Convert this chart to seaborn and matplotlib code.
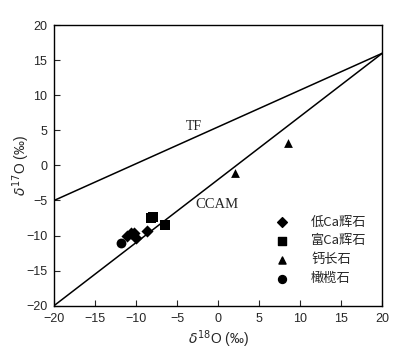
import numpy as np
import pandas as pd
import matplotlib
matplotlib.use("Agg")
import matplotlib.pyplot as plt
import seaborn as sns

# reference lines (endpoints)
tf_x = [-20, 20]
tf_y = [-5, 16]
ccam_x = [-20, 20]
ccam_y = [-20, 16]

# mineral data (d18O, d17O)
low_ca_px_x = [-11.1, -10.6, -10.2, -10.0, -8.7]
low_ca_px_y = [-10.0, -9.6, -9.7, -10.4, -9.4]
high_ca_px_x = [-8.2, -8.0, -6.5]
high_ca_px_y = [-7.5, -7.3, -8.5]
plag_x = [2.1, 8.45]
plag_y = [-1.1, 3.2]
olivine_x = [-11.9]
olivine_y = [-11.0]

labels = ["低Ca辉石", "富Ca辉石", "钙长石", "橄榄石"]
markers = {"低Ca辉石": "D", "富Ca辉石": "s", "钙长石": "^", "橄榄石": "o"}
sizes = {"低Ca辉石": 38, "富Ca辉石": 60, "钙长石": 40, "橄榄石": 50}

df = pd.concat([
    pd.DataFrame({"x": low_ca_px_x, "y": low_ca_px_y, "mineral": labels[0]}),
    pd.DataFrame({"x": high_ca_px_x, "y": high_ca_px_y, "mineral": labels[1]}),
    pd.DataFrame({"x": plag_x, "y": plag_y, "mineral": labels[2]}),
    pd.DataFrame({"x": olivine_x, "y": olivine_y, "mineral": labels[3]}),
], ignore_index=True)

sns.set_style("white")
plt.rcParams["font.family"] = ["Liberation Sans", "DejaVu Sans"]

fig = plt.figure(figsize=(4.16, 3.6), dpi=100)
ax = fig.add_axes([0.13, 0.151, 0.789, 0.779])

sns.lineplot(x=tf_x, y=tf_y, ax=ax, color="black", lw=1.1)
sns.lineplot(x=ccam_x, y=ccam_y, ax=ax, color="black", lw=1.1)

handles = []
for lab in labels:
    sub = df[df["mineral"] == lab]
    sns.scatterplot(data=sub, x="x", y="y", ax=ax, marker=markers[lab],
                    s=sizes[lab], color="black", edgecolor="black",
                    linewidth=0, label=lab, legend=False)
    # smaller markers for the legend keys
    handles.append(ax.scatter([], [], marker=markers[lab], s=sizes[lab] * 0.65,
                              color="black", label=lab))

ax.text(-3.0, 5.6, "TF", family=["Liberation Serif"], fontsize=10,
        ha="center", va="center")
ax.text(-2.8, -5.6, "CCAM", family=["Liberation Serif"], fontsize=10.5,
        ha="left", va="center")

ax.set_xlim(-20, 20)
ax.set_ylim(-20, 20)
ax.set_xticks(np.arange(-20, 21, 5))
ax.set_yticks(np.arange(-20, 21, 5))
ax.tick_params(direction="in", length=4, width=0.8, labelsize=9,
               bottom=True, left=True, top=False, right=False)
ax.tick_params(axis="x", pad=5)
ax.tick_params(axis="y", pad=5)
for sp in ax.spines.values():
    sp.set_color("black")
    sp.set_linewidth(1.0)

ax.set_xlabel(r"$\delta^{18}$O (‰)", fontsize=10, labelpad=3)
ax.set_ylabel(r"$\delta^{17}$O (‰)", fontsize=10)
ax.yaxis.set_label_coords(-0.067, 0.5)

leg = ax.legend(handles=handles, labels=labels, frameon=False,
                loc="upper left", bbox_to_anchor=(0.618, 0.364),
                handletextpad=1.2, labelspacing=0.45,
                prop={"family": ["Noto Sans CJK SC"], "size": 9.5})

fig.savefig("out.png", dpi=100)
